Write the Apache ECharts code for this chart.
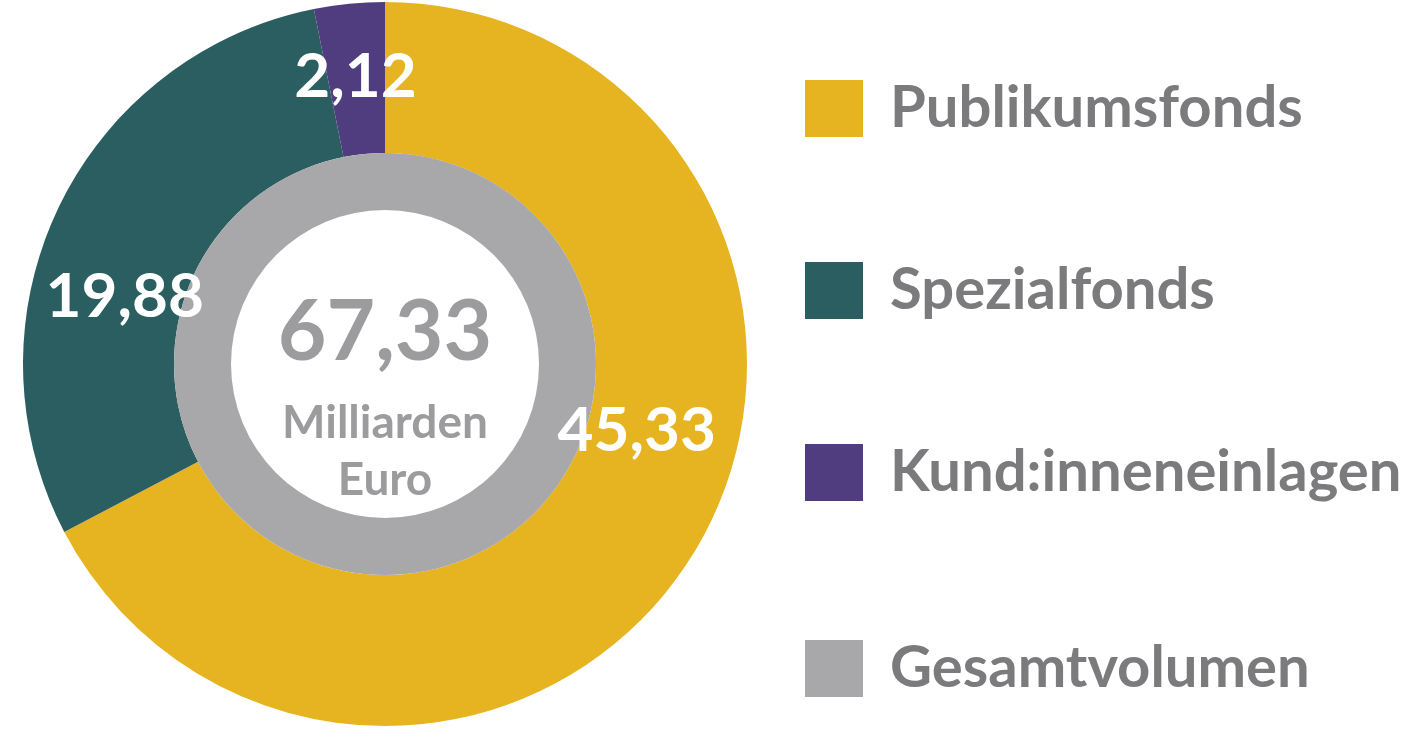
<!DOCTYPE html>
<html>
<head>
<meta charset="utf-8">
<script src="https://cdn.jsdelivr.net/npm/echarts@6/dist/echarts.min.js"></script>
<style>
  html, body { margin: 0; padding: 0; background: #ffffff; }
  #chart { width: 1422px; height: 729px; }
</style>
</head>
<body>
<div id="chart"></div>
<script>
// ---- data ----
var categories = ['Publikumsfonds', 'Spezialfonds', 'Kund:inneneinlagen'];
var values = [45.33, 19.88, 2.12];
var totalName = 'Gesamtvolumen';
var totalValue = 67.33;
var totalUnitLines = ['Milliarden', 'Euro'];

// ---- styling ----
var colors = ['#E7B421', '#2B5E60', '#4F3D80'];
var totalColor = '#A8A8AB';
var labelOffsets = [[4, -83], [1, 58], [-1, 1]];

function fmt(v) { return v.toFixed(2).replace('.', ','); }

var chart = echarts.init(document.getElementById('chart'), null, { renderer: 'canvas' });

var outerData = categories.map(function (c, i) {
  return {
    name: c,
    value: values[i],
    itemStyle: { color: colors[i] },
    label: { offset: labelOffsets[i] }
  };
});

var legendText = {
  fontFamily: 'Lato',
  fontWeight: 'bold',
  fontSize: 58,
  color: '#7B7B7E',
  lineHeight: 57,
  padding: [0, 0, 10, 22]
};

var option = {
  backgroundColor: '#ffffff',
  animation: false,
  legend: [
    {
      data: categories,
      orient: 'vertical',
      left: 805,
      top: 75,
      padding: 0,
      icon: 'rect',
      itemWidth: 58,
      itemHeight: 57,
      itemGap: 115,
      selectedMode: false,
      textStyle: legendText
    },
    {
      data: [totalName],
      orient: 'vertical',
      left: 805,
      top: 635,
      padding: 0,
      icon: 'rect',
      itemWidth: 58,
      itemHeight: 57,
      selectedMode: false,
      textStyle: legendText
    }
  ],
  series: [
    {
      type: 'pie',
      name: 'Anteile',
      center: [385, 364],
      radius: [211, 362],
      startAngle: 90,
      clockwise: true,
      silent: true,
      avoidLabelOverlap: false,
      label: {
        show: true,
        position: 'inside',
        formatter: function (p) { return fmt(p.value); },
        color: '#ffffff',
        fontFamily: 'Lato',
        fontWeight: 'bold',
        fontSize: 62
      },
      labelLine: { show: false },
      emphasis: { disabled: true },
      data: outerData
    },
    {
      type: 'pie',
      name: 'Gesamt',
      center: [385, 364],
      radius: [154, 211],
      silent: true,
      label: {
        show: true,
        position: 'center',
        offset: [0, 26],
        formatter: function (p) {
          return '{a|' + fmt(p.value) + '}\n' + totalUnitLines.map(function (t) { return '{b|' + t + '}'; }).join('\n');
        },
        rich: {
          a: { fontFamily: 'Lato', fontWeight: 'bold', fontSize: 84, color: '#9C9C9F', lineHeight: 123 },
          b: { fontFamily: 'Lato', fontWeight: 'bold', fontSize: 46, color: '#9C9C9F', lineHeight: 57 }
        }
      },
      labelLine: { show: false },
      emphasis: { disabled: true },
      data: [{ name: totalName, value: totalValue, itemStyle: { color: totalColor } }]
    }
  ]
};

chart.setOption(option);
</script>
</body>
</html>
